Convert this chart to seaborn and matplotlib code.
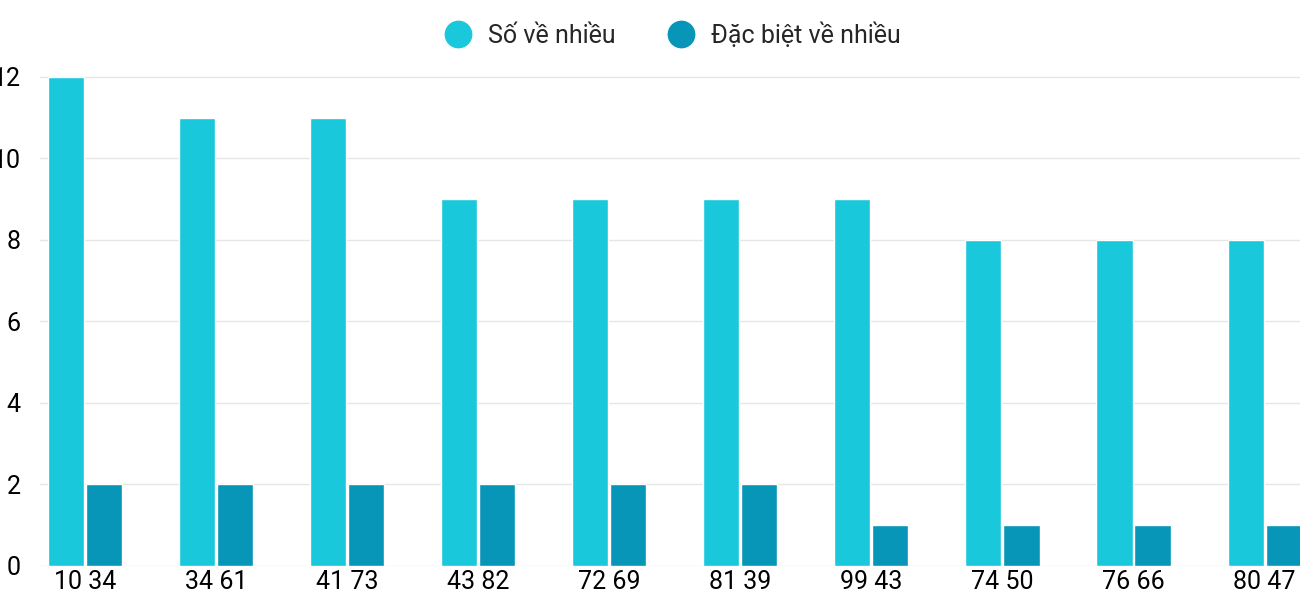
import matplotlib
matplotlib.use("Agg")
import matplotlib.pyplot as plt
import seaborn as sns
import pandas as pd

categories = ["10 34", "34 61", "41 73", "43 82", "72 69", "81 39", "99 43", "74 50", "76 66", "80 47"]
so_ve_nhieu = [12, 11, 11, 9, 9, 9, 9, 8, 8, 8]
dac_biet = [2, 2, 2, 2, 2, 2, 1, 1, 1, 1]
series_names = ["Số về nhiều", "Đặc biệt về nhiều"]
colors = ["#1ac8db", "#0795b8"]

df = pd.DataFrame({
    "cat": categories * 2,
    "val": so_ve_nhieu + dac_biet,
    "series": [series_names[0]] * len(categories) + [series_names[1]] * len(categories),
})

sns.set_theme(style="white")
plt.rcParams['font.family'] = ['Roboto', 'DejaVu Sans']

fig = plt.figure(figsize=(13, 6), dpi=100)
ax = fig.add_axes([0.031, 0.057, 0.969, 0.825])
sns.barplot(data=df, x="cat", y="val", hue="series", palette=colors,
            width=0.58, gap=0.05, ax=ax, legend=False, saturation=1)
ax.set_ylim(0, 12.15)
ax.set_xlim(-0.34, 9.27)
ax.set_yticks(range(0, 13, 2))
ax.yaxis.grid(True, color="#e6e6e6", linewidth=1)
ax.set_axisbelow(True)
for s in ["top", "right", "left", "bottom"]:
    ax.spines[s].set_visible(False)
ax.set_xlabel("")
ax.set_ylabel("")
ax.tick_params(axis="both", labelsize=18, colors="#000000", length=0, pad=3)
ax.tick_params(axis="y", pad=14)

from matplotlib.lines import Line2D
handles = [Line2D([0], [0], marker="o", color="w", markerfacecolor=c, markersize=21) for c in colors]
fig.legend(handles, series_names, loc="upper center", bbox_to_anchor=(0.513, 1.0),
           ncol=2, frameon=False, fontsize=18, handletextpad=0.2, columnspacing=1.6)
fig.savefig("out.png", dpi=100)
